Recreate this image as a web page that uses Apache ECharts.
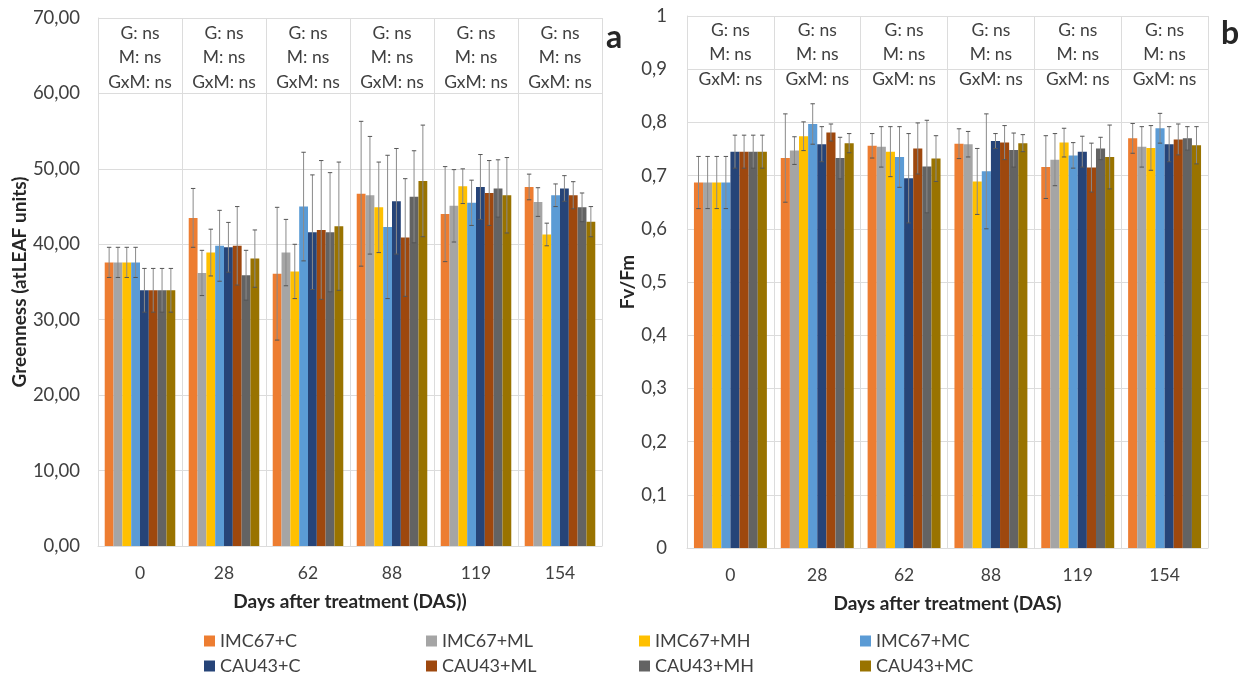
<!DOCTYPE html>
<html>
<head>
<meta charset="utf-8">
<script src="https://cdn.jsdelivr.net/npm/echarts@6/dist/echarts.min.js"></script>
<style>
  html, body { margin: 0; padding: 0; background: #ffffff; }
  #chart { width: 1256px; height: 677px; }
</style>
</head>
<body>
<div id="chart"></div>
<script>
// Sampling days (DAS) and the eight genotype x mulch treatments
const categories = ['0', '28', '62', '88', '119', '154'];
const treatments = ['IMC67+C', 'IMC67+ML', 'IMC67+MH', 'IMC67+MC',
                    'CAU43+C', 'CAU43+ML', 'CAU43+MH', 'CAU43+MC'];
const colors = ['#ED7D31', '#A5A5A5', '#FFC000', '#5B9BD5',
                '#264478', '#9E480E', '#636363', '#997300'];
const headerLines = ['G: ns', 'M: ns', 'GxM: ns'];

// Panel a: greenness (atLEAF units), one row per treatment, one value per day
const greennessMean = [
  [37.6, 43.5, 36.1, 46.7, 44.0, 47.6],
  [37.6, 36.2, 38.9, 46.5, 45.1, 45.6],
  [37.6, 38.9, 36.4, 44.9, 47.7, 41.3],
  [37.6, 39.8, 45.0, 42.3, 45.5, 46.5],
  [33.9, 39.6, 41.6, 45.7, 47.6, 47.4],
  [33.9, 39.8, 41.9, 40.9, 46.8, 46.5],
  [33.9, 35.9, 41.6, 46.3, 47.4, 44.9],
  [33.9, 38.1, 42.4, 48.4, 46.5, 43.0]
];
const greennessErr = [
  [2.0, 3.9, 8.8, 9.6, 6.3, 1.7],
  [2.0, 3.0, 4.4, 7.8, 4.8, 1.9],
  [2.0, 3.1, 3.6, 6.0, 2.3, 1.5],
  [2.0, 4.7, 7.2, 9.5, 3.0, 1.5],
  [2.9, 3.3, 7.6, 7.0, 4.3, 1.7],
  [2.9, 5.2, 9.2, 7.8, 4.3, 1.8],
  [2.9, 3.3, 7.9, 6.1, 3.8, 1.9],
  [2.9, 3.8, 8.5, 7.4, 5.0, 2.0]
];

// Panel b: maximum quantum yield of PSII (Fv/Fm)
const fvfmMean = [
  [0.687, 0.733, 0.756, 0.760, 0.716, 0.770],
  [0.687, 0.747, 0.754, 0.759, 0.730, 0.754],
  [0.687, 0.774, 0.745, 0.689, 0.762, 0.752],
  [0.687, 0.797, 0.735, 0.708, 0.738, 0.789],
  [0.745, 0.759, 0.695, 0.765, 0.745, 0.759],
  [0.745, 0.781, 0.751, 0.762, 0.715, 0.768],
  [0.745, 0.733, 0.717, 0.748, 0.751, 0.770],
  [0.745, 0.761, 0.732, 0.761, 0.735, 0.757]
];
const fvfmErr = [
  [0.049, 0.083, 0.023, 0.028, 0.059, 0.028],
  [0.049, 0.026, 0.038, 0.024, 0.049, 0.038],
  [0.049, 0.027, 0.047, 0.062, 0.027, 0.042],
  [0.049, 0.038, 0.057, 0.108, 0.024, 0.028],
  [0.031, 0.033, 0.084, 0.014, 0.029, 0.033],
  [0.031, 0.016, 0.048, 0.032, 0.046, 0.029],
  [0.031, 0.039, 0.087, 0.032, 0.021, 0.022],
  [0.031, 0.018, 0.043, 0.016, 0.060, 0.035]
];

const FONT = 'Lato, "Open Sans", sans-serif';
const TEXT = '#404040';
const TITLE = '#262626';
const GRID_LINE = '#dcdcdc';
const CAT_GAP = 0.16;

// Draws one +/- error whisker centred on its bar within the category band
function errorBarRenderer(params, api) {
  const cat = api.value(0);
  const mean = api.value(1);
  const err = api.value(2);
  const k = api.value(3);
  const n = treatments.length;
  const band = api.size([1, 0])[0];
  const groupW = band * (1 - CAT_GAP);
  const bw = groupW / n;
  const c = api.coord([cat, mean]);
  const x = c[0] - groupW / 2 + (k + 0.5) * bw;
  const yTop = api.coord([cat, mean + err])[1];
  const yBot = api.coord([cat, mean - err])[1];
  const cap = 2.2;
  const style = { stroke: '#8a8a8a', lineWidth: 1 };
  const capStyle = { stroke: '#555555', lineWidth: 1 };
  return {
    type: 'group',
    children: [
      { type: 'line', shape: { x1: x, y1: yTop, x2: x, y2: yBot }, style: style },
      { type: 'line', shape: { x1: x - cap, y1: yTop, x2: x + cap, y2: yTop }, style: capStyle },
      { type: 'line', shape: { x1: x - cap, y1: yBot, x2: x + cap, y2: yBot }, style: capStyle }
    ]
  };
}

function errorData(means, errs) {
  const out = [];
  means.forEach((row, k) => {
    row.forEach((v, i) => out.push([i, v, errs[k][i], k]));
  });
  return out;
}

function barSeries(means, axisIdx) {
  return treatments.map((name, k) => ({
    name: name,
    type: 'bar',
    xAxisIndex: axisIdx,
    yAxisIndex: axisIdx,
    data: means[k],
    barGap: '0%',
    barCategoryGap: (CAT_GAP * 100) + '%',
    itemStyle: { color: colors[k] },
    emphasis: { disabled: true },
    z: 2
  }));
}

function bottomXAxis(gridIndex, title) {
  return {
    type: 'category',
    gridIndex: gridIndex,
    data: categories,
    position: 'bottom',
    axisLine: { show: true, lineStyle: { color: GRID_LINE } },
    axisTick: { show: false },
    splitLine: { show: true, interval: 0, lineStyle: { color: GRID_LINE } },
    axisLabel: { color: TEXT, fontFamily: FONT, fontSize: 17.5, margin: 18 },
    name: title,
    nameLocation: 'middle',
    nameGap: 46,
    nameTextStyle: { color: TITLE, fontFamily: FONT, fontSize: 19, fontWeight: 'bold' }
  };
}

// Top axis used only to place the significance summary above each day
function headerXAxis(gridIndex, margin) {
  return {
    type: 'category',
    gridIndex: gridIndex,
    data: categories,
    position: 'top',
    axisLine: { show: false },
    axisTick: { show: false },
    splitLine: { show: false },
    axisLabel: {
      inside: true,
      margin: margin,
      interval: 0,
      color: TEXT,
      fontFamily: FONT,
      fontSize: 17.5,
      lineHeight: 24.5,
      formatter: () => headerLines.join('\n')
    }
  };
}

const legendCols = [204, 426, 639, 860];
const legends = legendCols.map((left, c) => ({
  left: left,
  top: 632,
  height: 60,
  padding: 0,
  orient: 'vertical',
  data: [treatments[c], treatments[c + 4]],
  icon: 'rect',
  itemWidth: 11,
  itemHeight: 11,
  itemGap: 7,
  selectedMode: false,
  textStyle: { color: TEXT, fontFamily: FONT, fontSize: 18, padding: [0, 0, 0, 0] }
}));

const option = {
  backgroundColor: '#ffffff',
  animation: false,
  textStyle: { fontFamily: FONT },
  legend: legends,
  grid: [
    { left: 98, right: 654, top: 18, bottom: 131 },
    { left: 687, right: 48, top: 16, bottom: 129 }
  ],
  xAxis: [
    bottomXAxis(0, 'Days after treatment (DAS))'),
    bottomXAxis(1, 'Days after treatment (DAS)'),
    headerXAxis(0, 3),
    headerXAxis(1, 2)
  ],
  yAxis: [
    {
      type: 'value', gridIndex: 0, min: 0, max: 70, interval: 10,
      axisLine: { show: true, lineStyle: { color: GRID_LINE } },
      axisTick: { show: false },
      splitLine: { show: true, lineStyle: { color: GRID_LINE } },
      axisLabel: {
        color: TEXT, fontFamily: FONT, fontSize: 18.5, margin: 18,
        formatter: v => v.toFixed(2).replace('.', ',')
      },
      name: 'Greenness (atLEAF units)',
      nameLocation: 'middle',
      nameGap: 63,
      nameTextStyle: { color: TITLE, fontFamily: FONT, fontSize: 19, fontWeight: 'bold' }
    },
    {
      type: 'value', gridIndex: 1, min: 0, max: 1, interval: 0.1,
      axisLine: { show: true, lineStyle: { color: GRID_LINE } },
      axisTick: { show: false },
      splitLine: { show: true, lineStyle: { color: GRID_LINE } },
      axisLabel: {
        color: TEXT, fontFamily: FONT, fontSize: 18.5, margin: 20,
        formatter: v => String(Number(v.toFixed(1))).replace('.', ',')
      },
      name: 'Fv/Fm',
      nameLocation: 'middle',
      nameGap: 50,
      nameTextStyle: { color: TITLE, fontFamily: FONT, fontSize: 19, fontWeight: 'bold' }
    }
  ],
  graphic: [
    { type: 'text', left: 606, top: 22, style: { text: 'a', font: 'bold 32px ' + FONT, fill: TITLE } },
    { type: 'text', left: 1221, top: 18, style: { text: 'b', font: 'bold 32px ' + FONT, fill: TITLE } }
  ],
  series: [
    ...barSeries(greennessMean, 0),
    ...barSeries(fvfmMean, 1),
    {
      type: 'custom',
      name: 'greenness-sd',
      xAxisIndex: 0, yAxisIndex: 0,
      renderItem: errorBarRenderer,
      encode: { x: 0, y: 1 },
      data: errorData(greennessMean, greennessErr),
      silent: true,
      z: 5
    },
    {
      type: 'custom',
      name: 'fvfm-sd',
      xAxisIndex: 1, yAxisIndex: 1,
      renderItem: errorBarRenderer,
      encode: { x: 0, y: 1 },
      data: errorData(fvfmMean, fvfmErr),
      silent: true,
      z: 5
    }
  ]
};

const chart = echarts.init(document.getElementById('chart'), null, { renderer: 'canvas' });
chart.setOption(option);
</script>
</body>
</html>
